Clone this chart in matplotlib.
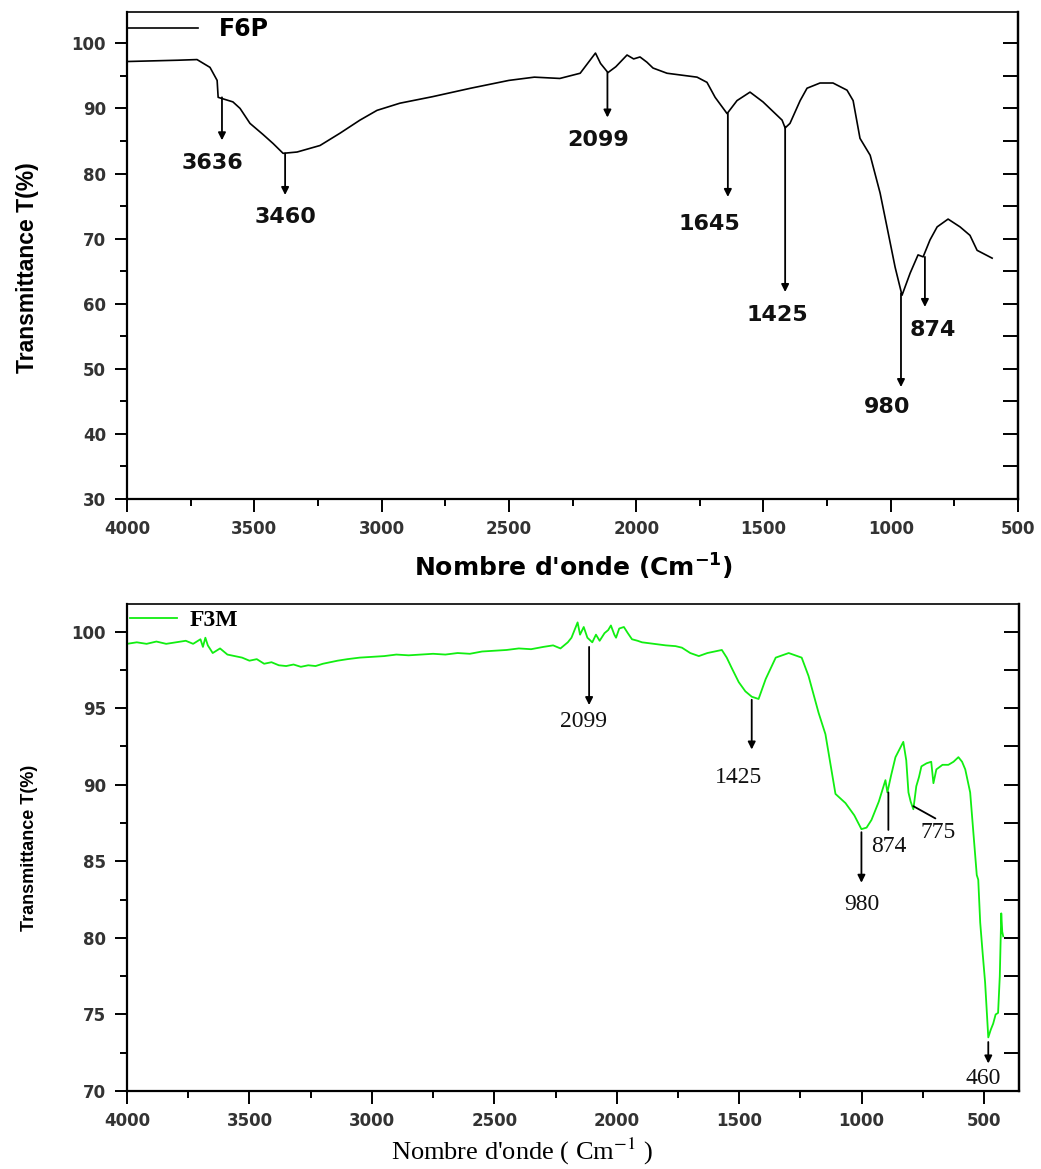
"""FTIR spectra of F6P and F3M (transmittance vs wavenumber), two stacked panels."""

import matplotlib
matplotlib.use("Agg")
import matplotlib.pyplot as plt
from matplotlib import font_manager as fm
from matplotlib.ticker import MultipleLocator

# ---- F6P spectrum (top) ----
f6p_wn = [4000, 3900, 3800, 3725, 3674, 3646, 3642, 3584, 3556, 3517,
          3466, 3426, 3387, 3332, 3242, 3163, 3085, 3018, 2928, 2800,
          2650, 2500, 2400, 2300, 2220, 2160, 2140, 2111, 2080, 2036,
          2010, 1985, 1958, 1934, 1879, 1761, 1722, 1690, 1643, 1604,
          1553, 1502, 1427, 1415, 1396, 1356, 1329, 1278, 1227, 1172,
          1148, 1121, 1081, 1042, 1015, 983, 956, 924, 893, 873,
          846, 818, 775, 728, 689, 661, 602]
f6p_t = [97.2, 97.3, 97.4, 97.5, 96.3, 94.3, 91.7, 91.0, 90.0, 87.7,
         86.0, 84.6, 83.1, 83.3, 84.3, 86.2, 88.2, 89.7, 90.8, 91.8,
         93.1, 94.3, 94.8, 94.6, 95.4, 98.5, 96.9, 95.5, 96.4, 98.2,
         97.6, 97.9, 97.1, 96.2, 95.4, 94.8, 94.0, 91.7, 89.2, 91.2,
         92.5, 91.0, 88.2, 87.0, 87.7, 91.2, 93.1, 93.9, 93.9, 92.8,
         91.2, 85.4, 82.8, 77.0, 71.8, 65.6, 61.3, 64.7, 67.5, 67.2,
         69.8, 71.8, 73.0, 71.8, 70.5, 68.2, 67.0]

# peak labels: text, arrow x, arrow start y, arrow end y, label x, label y
f6p_peaks = ["3636", "3460", "2099", "1645", "1425", "980", "874"]
f6p_arrow_x = [3627, 3379, 2113, 1640, 1415, 960, 866]
f6p_arrow_y0 = [91.7, 83.1, 95.5, 89.2, 87.2, 61.6, 67.2]
f6p_arrow_y1 = [85.1, 76.7, 88.6, 76.4, 61.8, 47.2, 59.5]
f6p_label_x = [3663, 3379, 2150, 1711, 1446, 1015, 834]
f6p_label_y = [81.6, 73.3, 85.1, 72.2, 58.2, 44.1, 55.9]

# ---- F3M spectrum (bottom) ----
f3m_wn = [4000, 3960, 3920, 3880, 3840, 3800, 3760, 3730, 3700, 3690,
          3680, 3670, 3650, 3620, 3590, 3560, 3530, 3500, 3470, 3440,
          3410, 3380, 3350, 3320, 3290, 3260, 3230, 3200, 3170, 3140,
          3100, 3050, 3000, 2950, 2900, 2850, 2800, 2750, 2700, 2650,
          2600, 2550, 2500, 2450, 2400, 2350, 2300, 2260, 2230, 2200,
          2185, 2170, 2160, 2150, 2135, 2120, 2100, 2085, 2070, 2050,
          2035, 2024, 2010, 2003, 1990, 1971, 1955, 1938, 1915, 1897,
          1850, 1800, 1760, 1734, 1700, 1665, 1630, 1600, 1571, 1551,
          1530, 1502, 1475, 1449, 1421, 1392, 1351, 1298, 1245, 1217,
          1176, 1148, 1107, 1066, 1030, 1001, 980, 960, 930, 903,
          895, 880, 862, 830, 818, 809, 800, 789, 777, 766,
          756, 735, 716, 707, 695, 670, 646, 625, 605, 590,
          577, 557, 536, 530, 524, 516, 506, 496, 483, 473,
          463, 453, 443, 436, 430, 426, 422]
f3m_t = [99.2, 99.3, 99.2, 99.35, 99.2, 99.3, 99.4, 99.2, 99.5, 99.0,
         99.6, 99.1, 98.6, 98.9, 98.5, 98.4, 98.3, 98.1, 98.2, 97.9,
         98.0, 97.8, 97.75, 97.85, 97.7, 97.8, 97.75, 97.9, 98.0, 98.1,
         98.2, 98.3, 98.35, 98.4, 98.5, 98.45, 98.5, 98.55, 98.5, 98.6,
         98.55, 98.7, 98.75, 98.8, 98.9, 98.85, 99.0, 99.1, 98.9, 99.3,
         99.6, 100.2, 100.6, 99.8, 100.3, 99.6, 99.3, 99.8, 99.4, 99.9,
         100.1, 100.4, 99.8, 99.6, 100.2, 100.3, 99.9, 99.5, 99.4, 99.3,
         99.2, 99.1, 99.05, 98.95, 98.6, 98.4, 98.6, 98.7, 98.8, 98.3,
         97.6, 96.7, 96.1, 95.75, 95.6, 96.9, 98.3, 98.6, 98.3, 97.1,
         94.7, 93.3, 89.4, 88.8, 88.0, 87.1, 87.2, 87.7, 88.9, 90.3,
         89.5, 90.6, 91.8, 92.8, 91.6, 89.5, 88.9, 88.4, 89.9, 90.5,
         91.2, 91.4, 91.5, 90.1, 91.0, 91.3, 91.3, 91.5, 91.8, 91.5,
         91.0, 89.5, 85.3, 84.1, 83.8, 81.0, 79.0, 77.1, 73.5, 74.0,
         74.4, 75.0, 75.1, 77.5, 81.6, 80.4, 80.1]

f3m_peaks = ["2099", "1425", "980", "874", "775", "460"]
f3m_arrow_x0 = [2113, 1449, 1001, 891, 789, 483]
f3m_arrow_x1 = [2113, 1449, 1001, 891, 699, 483]
f3m_arrow_y0 = [99.0, 95.55, 86.9, 89.5, 88.6, 73.2]
f3m_arrow_y1 = [95.2, 92.3, 83.6, 87.05, 87.8, 71.8]
f3m_has_head = [True, True, True, False, False, True]
f3m_label_x = [2134, 1502, 1001, 891, 687, 504]
f3m_label_y = [94.1, 90.5, 82.2, 85.95, 86.9, 70.85]

names = {f.name for f in fm.fontManager.ttflist}
NARROW = "Liberation Sans Narrow" if "Liberation Sans Narrow" in names else "Liberation Sans"
SERIF = "Liberation Serif"
TICK_C = "#333333"
GREEN = "#11ee11"

fig = plt.figure(figsize=(10.41, 11.69), dpi=100)
ax1 = fig.add_axes([0.122, 0.5731, 0.856, 0.4166])
ax2 = fig.add_axes([0.122, 0.0667, 0.857, 0.4166])


def style_axes(ax, xlim, ylim, ymaj, ymin, right_step):
    ax.set_xlim(*xlim)
    ax.set_ylim(*ylim)
    ax.xaxis.set_major_locator(MultipleLocator(500))
    ax.xaxis.set_minor_locator(MultipleLocator(250))
    ax.yaxis.set_major_locator(MultipleLocator(ymaj))
    ax.yaxis.set_minor_locator(MultipleLocator(ymin))
    for sp in ax.spines.values():
        sp.set_linewidth(1.6)
    ax.spines["top"].set_linewidth(1.2)
    ax.tick_params(which="major", direction="out", length=9, width=1.4, pad=6,
                   labelsize=12, labelcolor=TICK_C)
    ax.tick_params(which="minor", direction="out", length=5, width=1.4)
    for lab in ax.get_xticklabels() + ax.get_yticklabels():
        lab.set_fontweight("bold")
        lab.set_family("DejaVu Sans")
    # right-hand inward ticks, no labels
    sec = ax.secondary_yaxis("right")
    sec.yaxis.set_major_locator(MultipleLocator(right_step))
    sec.tick_params(direction="in", length=11, width=1.4, labelright=False)
    sec.spines["right"].set_linewidth(1.6)


# ---- top panel ----
style_axes(ax1, (4000, 500), (30, 104.8), 10, 5, 5)
ax1.plot(f6p_wn, f6p_t, color="black", lw=1.2, label="F6P")
for i, txt in enumerate(f6p_peaks):
    ax1.annotate("", xy=(f6p_arrow_x[i], f6p_arrow_y1[i]),
                 xytext=(f6p_arrow_x[i], f6p_arrow_y0[i]),
                 arrowprops=dict(arrowstyle="-|>", color="black", lw=1.3,
                                 mutation_scale=11, shrinkA=0, shrinkB=0))
    ax1.text(f6p_label_x[i], f6p_label_y[i], txt, ha="center", va="center",
             fontsize=16, fontweight="bold", family="DejaVu Sans", color="#111111")
ax1.legend(loc="center left", bbox_to_anchor=(0.0, 0.965), frameon=False,
           borderpad=0, borderaxespad=0, handlelength=3.0, handletextpad=0.9,
           prop=dict(family="DejaVu Sans", weight="bold", size=17))
ax1.set_xlabel(r"Nombre d'onde (Cm$^{\mathbf{-1}}$)", fontsize=18, fontweight="bold",
               family="DejaVu Sans", va="center")
ax1.xaxis.set_label_coords(0.5006, -0.14)
ax1.set_ylabel("Transmittance T(%)", fontsize=16.5, fontweight="bold", family=NARROW,
               va="center")
ax1.yaxis.set_label_coords(-0.112, 0.475)

# ---- bottom panel ----
style_axes(ax2, (4000, 357), (70, 101.8), 5, 2.5, 2.5)
ax2.plot(f3m_wn, f3m_t, color=GREEN, lw=1.3, label="F3M")
for i, txt in enumerate(f3m_peaks):
    style = "-|>" if f3m_has_head[i] else "-"
    ax2.annotate("", xy=(f3m_arrow_x1[i], f3m_arrow_y1[i]),
                 xytext=(f3m_arrow_x0[i], f3m_arrow_y0[i]),
                 arrowprops=dict(arrowstyle=style, color="black", lw=1.3,
                                 mutation_scale=11, shrinkA=0, shrinkB=0))
    ax2.text(f3m_label_x[i], f3m_label_y[i], txt, ha="center", va="center",
             fontsize=17, family=SERIF, color="#111111")
ax2.legend(loc="center left", bbox_to_anchor=(0.003, 0.967), frameon=False,
           borderpad=0, borderaxespad=0, handlelength=2.0, handletextpad=0.55,
           prop=dict(family=SERIF, weight="bold", size=17))
ax2.set_xlabel(r"Nombre d'onde ( Cm$^{-1}$ )", fontsize=19, family=SERIF,
               math_fontfamily="stix", va="center")
ax2.xaxis.set_label_coords(0.443, -0.124)
ax2.set_ylabel("Transmittance T(%)", fontsize=13, fontweight="bold", family=NARROW,
               va="center")
ax2.yaxis.set_label_coords(-0.109, 0.50)

fig.savefig("out.png", dpi=100)
